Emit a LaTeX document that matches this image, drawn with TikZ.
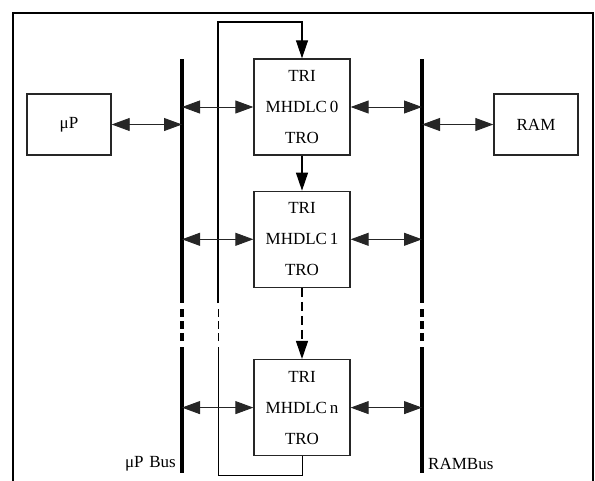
\documentclass[tikz,border=0pt]{standalone}
\usepackage{fontspec}
\setmainfont{Liberation Serif}
\usetikzlibrary{positioning,arrows.meta}
\tikzset{
  unit/.style={draw=black!85,line width=1.3pt,minimum width=96pt,minimum height=96pt,inner sep=0pt,align=center,font=\fontsize{17}{18}\selectfont},
  endbox/.style={draw=black!85,line width=1.4pt,minimum width=84pt,minimum height=61pt,inner sep=0pt,font=\fontsize{17}{18}\selectfont},
  lbl/.style={inner sep=0pt,font=\fontsize{17}{18}\selectfont},
  link/.style={{Triangle[length=18pt,width=13pt]}-{Triangle[length=18pt,width=13pt]},line width=0.9pt,black!85},
  arr/.style={-{Triangle[length=18pt,width=12pt]},line width=1.1pt},
  bus/.style={line width=3.2pt},
  gap/.style={dash pattern=on 8pt off 4pt}
}

\begin{document}
\begin{tikzpicture}[x=1pt,y=-1pt]
\useasboundingbox (0,0) rectangle (595,480);
\draw[line width=2.2pt] (13,481) -- (13,13) -- (593,13) -- (593,481);

\node[unit] (mhdlc0) at (302,107) {TRI\\[13pt]MHDLC\,0\\[13pt]TRO};
\node[unit,below=35pt of mhdlc0] (mhdlc1) {TRI\\[13pt]MHDLC\,1\\[13pt]TRO};
\node[unit,below=71pt of mhdlc1] (mhdlcn) {TRI\\[13pt]MHDLC\,n\\[13pt]TRO};
\node[endbox] (up) at (69,124.5) {μP};
\node[endbox] (ram) at (536,124.5) {RAM};

\coordinate (upbus) at (182,59);
\coordinate (rambus) at (422,59);
\coordinate (looptop) at (218,22);

% buses
\foreach \x in {182,422} {
  \draw[bus] (\x,59) -- (\x,303);
  \draw[bus,gap] (\x,309) -- (\x,341);
  \draw[bus] (\x,347) -- (\x,473);
}

\node[lbl,anchor=east] (uplabel) at (176,464) {μP\,\,Bus};
\node[lbl,anchor=west] (ramlabel) at (428,464) {RAMBus};

% loop back
\draw[line width=0.9pt] (mhdlcn.south) -- ++(0,19) -| (218,347);
\draw[line width=0.9pt,gap] (218,341) -- (218,309);
\draw[arr] (218,303) -- (looptop) -| (mhdlc0.north);

\draw[arr] (mhdlc0) -- (mhdlc1);
\draw[arr,dash pattern=on 9pt off 5pt] (mhdlc1) -- (mhdlcn);

\draw[link] (up.east) -- (up.east -| upbus);
\draw[link] (ram.west) -- (ram.west -| rambus);
\foreach \m in {mhdlc0,mhdlc1,mhdlcn} {
  \draw[link] (\m.west -| upbus) -- (\m.west);
  \draw[link] (\m.east) -- (\m.east -| rambus);
}
\end{tikzpicture}
\end{document}
